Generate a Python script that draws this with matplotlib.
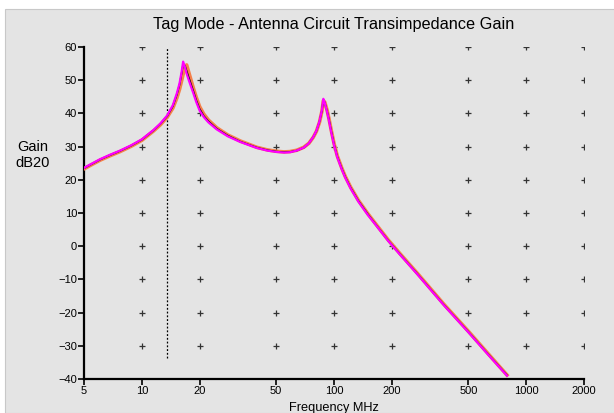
import numpy as np
import matplotlib
matplotlib.use('Agg')
from matplotlib import pyplot as plt
from matplotlib.patches import Rectangle

plt.rcParams['font.family'] = ['Liberation Sans', 'DejaVu Sans']

# frequency points (MHz)
freq = [5, 5.5, 6.06, 6.8, 7.7, 8.8, 10, 11.5, 12.5, 13.56, 14.5, 15.2, 15.7, 16.1,
        16.4, 16.8, 17.1, 17.5, 18.5, 19.2, 20, 21, 22.2, 24.5, 28, 32.5, 39.6, 45,
        50, 55, 59, 64, 69.6, 74, 78, 81, 84, 86.5, 88, 89.5, 92, 94, 97, 100,
        104, 110, 114.5, 122, 134, 150, 167, 192, 221, 271, 372, 500, 628, 795]
# gain (dB20) per trace
gain_magenta = [23.6, 24.9, 26.2, 27.5, 28.8, 30.4, 32.2, 35.0, 37.0, 39.4, 42.5, 46.0, 49.0, 52.5,
                55.6, 53.8, 52.0, 50.2, 46.2, 43.4, 40.8, 38.9, 37.3, 35.2, 33.1, 31.4, 29.6, 28.8,
                28.4, 28.2, 28.3, 28.8, 29.7, 31.0, 32.9, 34.8, 37.6, 41.0, 44.4, 43.2, 40.5, 38.0,
                34.0, 30.5, 26.8, 23.0, 20.6, 17.4, 13.4, 9.4, 6.0, 1.5, -2.6, -8.4, -17.7, -25.9,
                -32.4, -39.0]
gain_orange = [23.3, 24.6, 25.9, 27.2, 28.5, 30.1, 31.9, 34.7, 36.6, 38.9, 41.6, 44.6, 47.2, 49.8,
               51.8, 53.8, 54.6, 52.6, 47.8, 44.8, 42.0, 39.8, 38.0, 35.7, 33.5, 31.7, 29.8, 29.0,
               28.6, 28.4, 28.5, 28.9, 29.8, 31.0, 32.8, 34.6, 37.3, 40.6, 43.8, 43.4, 41.0, 38.6,
               34.6, 31.0, 27.2, 23.4, 21.0, 17.8, 13.8, 9.8, 6.3, 1.8, -2.3, -8.1, -17.4, -25.6,
               -32.1, -38.8]
gain_black = [23.5, 24.8, 26.1, 27.4, 28.7, 30.3, 32.1, 34.9, 36.9, 39.2, 42.2, 45.6, 48.6, 52.0,
              54.8, 54.2, 52.8, 51.0, 46.8, 43.9, 41.3, 39.2, 37.6, 35.4, 33.3, 31.5, 29.7, 28.9,
              28.5, 28.3, 28.4, 28.8, 29.7, 31.0, 32.9, 34.7, 37.5, 40.8, 44.1, 43.3, 40.7, 38.3,
              34.3, 30.7, 27.0, 23.2, 20.8, 17.6, 13.6, 9.6, 6.1, 1.6, -2.5, -8.3, -17.6, -25.8,
              -32.3, -38.9]

x_ticks = [5, 10, 20, 50, 100, 200, 500, 1000, 2000]
y_ticks = [-40, -30, -20, -10, 0, 10, 20, 30, 40, 50, 60]
marker_x = [10, 20, 50, 100, 200, 500, 1000, 2000]
marker_y = [-30, -20, -10, 0, 10, 20, 30, 40, 50, 60]
carrier = 13.56
carrier_low = -33.7

W, H = 614, 413
bg = '#e4e4e4'
fig = plt.figure(figsize=(W / 100, H / 100), dpi=100, facecolor='white')
fig.patches.append(Rectangle((5 / W, 0), 1, 1 - 9 / H, transform=fig.transFigure,
                             facecolor=bg, edgecolor='#c8c8c8', lw=0.8, zorder=-5))

ax = fig.add_axes([84 / W, (H - 379) / H, 500 / W, 332 / H])
ax.set_zorder(2)
ax.set_facecolor(bg)
ax.set_xscale('log')
ax.set_xlim(5, 2000)
ax.set_ylim(-40, 60)

# grid crosses
mx, my = np.meshgrid(marker_x, marker_y)
ax.plot(mx.ravel(), my.ravel(), '+', color='#333333', ms=4, mew=0.9, zorder=1)

ax.vlines(carrier, carrier_low, 60, colors='black', linestyles=(0, (1.5, 1.5)), lw=0.9, zorder=2)

ax.plot(freq, gain_orange, color='#f5804a', lw=2.6, zorder=3, solid_joinstyle='round')
ax.plot(freq, gain_black, color='black', lw=1.2, zorder=4, solid_joinstyle='round')
ax.plot(freq, gain_magenta, color='#ff00ff', lw=1.6, zorder=5, solid_joinstyle='round')

ax.set_xticks(x_ticks)
ax.set_xticklabels([str(v) for v in x_ticks])
ax.xaxis.set_minor_locator(matplotlib.ticker.NullLocator())
ax.set_yticks(y_ticks)
ax.tick_params(axis='both', direction='out', length=4, width=1.2, labelsize=8, pad=1, colors='black')
for s in ['top', 'right']:
    ax.spines[s].set_visible(False)
for s in ['left', 'bottom']:
    ax.spines[s].set_linewidth(1.6)

fig.text(334 / W, 1 - 25 / H, 'Tag Mode - Antenna Circuit Transimpedance Gain',
         ha='center', va='center', fontsize=11.7)
fig.text(33 / W, 1 - 155 / H, 'Gain\ndB20', ha='center', va='center', fontsize=10.5,
         linespacing=1.1)
fig.text(334 / W, 1 - 408 / H, 'Frequency MHz', ha='center', va='center', fontsize=9.2)

fig.savefig('out.png', dpi=100, facecolor=fig.get_facecolor())
